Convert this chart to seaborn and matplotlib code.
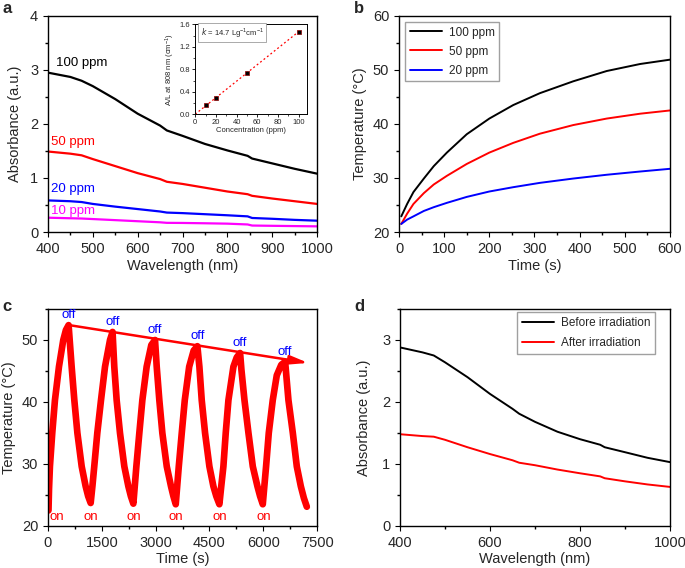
import numpy as np
import pandas as pd
import matplotlib
matplotlib.use('Agg')
import matplotlib.pyplot as plt
import seaborn as sns
from matplotlib.ticker import MultipleLocator

# ---- panel a: absorbance spectra at different concentrations
wl_a = [400, 450, 475, 500, 550, 600, 650, 665, 700, 750, 800, 845, 855, 900, 950, 1000]
abs_100 = [2.95, 2.87, 2.80, 2.70, 2.46, 2.19, 1.97, 1.88, 1.78, 1.63, 1.51, 1.41, 1.36, 1.27, 1.17, 1.08]
abs_50 = [1.49, 1.45, 1.42, 1.35, 1.22, 1.09, 0.98, 0.93, 0.89, 0.82, 0.75, 0.70, 0.67, 0.62, 0.57, 0.52]
abs_20 = [0.585, 0.57, 0.555, 0.52, 0.47, 0.425, 0.38, 0.36, 0.35, 0.33, 0.31, 0.29, 0.26, 0.245, 0.225, 0.21]
abs_10 = [0.265, 0.255, 0.25, 0.24, 0.22, 0.20, 0.18, 0.17, 0.168, 0.162, 0.155, 0.14, 0.12, 0.115, 0.11, 0.105]
conc_labels = ['100 ppm', '50 ppm', '20 ppm', '10 ppm']
conc_colors = ['black', 'red', 'blue', 'magenta']
label_y = [3.12, 1.67, 0.80, 0.39]

# inset: A/L at 808 nm vs concentration
conc = [10, 20, 50, 100]
a_over_l = [0.155, 0.295, 0.73, 1.47]
fit_x = [0, 100]
fit_y = [0.0, 1.47]

# ---- panel b: temperature vs time
time_b = [5, 18, 32, 55, 77, 106, 150, 200, 253, 312, 386, 460, 534, 600]
temp_100 = [22.9, 25.2, 27.4, 29.9, 32.2, 34.7, 38.1, 41.0, 43.5, 45.7, 47.9, 49.8, 51.1, 51.9]
temp_50 = [21.5, 23.4, 25.2, 27.2, 28.8, 30.4, 32.6, 34.7, 36.5, 38.2, 39.8, 41.0, 41.9, 42.5]
temp_20 = [21.5, 22.3, 22.9, 23.9, 24.6, 25.4, 26.5, 27.5, 28.3, 29.1, 29.9, 30.6, 31.2, 31.7]
b_labels = ['100 ppm', '50 ppm', '20 ppm']
b_colors = ['black', 'red', 'blue']

# ---- panel c: heating / cooling cycles
time_c = [15, 30, 55, 120, 195, 307, 427, 500, 575,
          660, 735, 820, 940, 1050, 1120, 1190,
          1240, 1290, 1375, 1478, 1590, 1729, 1800,
          1848, 1914, 2007, 2128, 2240, 2310, 2379,
          2420, 2463, 2546, 2630, 2750, 2880, 2983,
          3030, 3103, 3187, 3310, 3428, 3495, 3560,
          3602, 3645, 3728, 3812, 3935, 4060, 4163,
          4219, 4284, 4377, 4498, 4609, 4690, 4776,
          4830, 4888, 4953, 5028, 5167, 5260, 5353,
          5390, 5475, 5586, 5707, 5836, 5910, 5985,
          6030, 6077, 6152, 6263, 6375, 6500, 6608,
          6645, 6700, 6822, 6933, 7045, 7130, 7212]
temp_c = [22.5, 26.0, 29.6, 35.0, 40.3, 45.7, 50.0, 51.6, 52.4,
          45.7, 40.3, 35.0, 29.6, 26.4, 24.8, 23.7,
          26.5, 29.6, 35.0, 40.3, 45.7, 50.0, 51.3,
          45.7, 40.3, 35.0, 29.6, 26.4, 24.8, 23.6,
          26.5, 29.6, 35.0, 40.3, 45.7, 49.2, 50.0,
          45.7, 40.3, 35.0, 29.6, 26.4, 24.8, 23.5,
          26.5, 29.6, 35.0, 40.3, 45.7, 48.3, 49.0,
          45.7, 40.3, 35.0, 29.6, 26.4, 24.8, 23.5,
          26.5, 29.6, 35.0, 40.3, 45.7, 47.2, 47.9,
          45.2, 40.3, 35.0, 29.6, 26.4, 24.8, 23.5,
          26.5, 29.6, 35.0, 40.3, 44.3, 46.0, 46.5,
          44.0, 40.3, 35.0, 29.6, 26.4, 24.5, 23.1]
off_time = [575, 1800, 2983, 4163, 5353, 6608]
off_temp = [52.4, 51.3, 50.0, 49.0, 47.9, 46.5]
on_time = [240, 1190, 2380, 3565, 4795, 6020]
on_temp = [21.4, 21.4, 21.4, 21.4, 21.4, 21.4]
arrow_start = (590, 52.4)
arrow_end = (7250, 46.3)

# ---- panel d: before / after irradiation
wl_d = [400, 450, 475, 500, 550, 600, 650, 665, 700, 750, 800, 845, 855, 900, 950, 1000]
abs_before = [2.88, 2.80, 2.75, 2.64, 2.40, 2.13, 1.89, 1.81, 1.68, 1.52, 1.40, 1.31, 1.27, 1.19, 1.10, 1.03]
abs_after = [1.48, 1.45, 1.44, 1.39, 1.27, 1.16, 1.06, 1.02, 0.98, 0.91, 0.85, 0.80, 0.77, 0.72, 0.67, 0.63]
d_labels = ['Before irradiation', 'After irradiation']
d_colors = ['black', 'red']

sns.set_theme(style='ticks')
plt.rcParams['font.family'] = ['Liberation Sans', 'DejaVu Sans']
plt.rcParams['axes.linewidth'] = 1.0
plt.rcParams['xtick.major.size'] = 3.5
plt.rcParams['ytick.major.size'] = 3.5
plt.rcParams['xtick.minor.size'] = 2
plt.rcParams['ytick.minor.size'] = 2
plt.rcParams['xtick.major.width'] = 0.8
plt.rcParams['ytick.major.width'] = 0.8
plt.rcParams['mathtext.default'] = 'regular'

fig = plt.figure(figsize=(6.85, 5.68), dpi=100)
ax_a = fig.add_axes([0.070, 0.5915, 0.393, 0.3805])
ax_b = fig.add_axes([0.5825, 0.5915, 0.3955, 0.3805])
ax_c = fig.add_axes([0.070, 0.074, 0.393, 0.382])
ax_d = fig.add_axes([0.584, 0.074, 0.394, 0.382])
FS = 10.5

def style(ax):
    for s in ax.spines.values():
        s.set_visible(True)
        s.set_color('black')
    ax.tick_params(labelsize=FS, direction='out', color='black')
    ax.tick_params(which='minor', direction='out', color='black')

# panel a
df_a = pd.DataFrame({'wl': wl_a * 4,
                     'A': abs_100 + abs_50 + abs_20 + abs_10,
                     'conc': sum([[c] * len(wl_a) for c in conc_labels], [])})
sns.lineplot(data=df_a, x='wl', y='A', hue='conc', palette=conc_colors, ax=ax_a,
             linewidth=1.6, legend=False)
for lab, col, y in zip(conc_labels, conc_colors, label_y):
    ax_a.text(418 if lab == '100 ppm' else 407, y, lab, color=col, fontsize=9.5, va='center')
ax_a.set_xlim(400, 1000)
ax_a.set_ylim(0, 4)
ax_a.xaxis.set_major_locator(MultipleLocator(100))
ax_a.xaxis.set_minor_locator(MultipleLocator(50))
ax_a.yaxis.set_major_locator(MultipleLocator(1))
ax_a.yaxis.set_minor_locator(MultipleLocator(0.5))
ax_a.set_xlabel('Wavelength (nm)', fontsize=FS, labelpad=2)
ax_a.set_ylabel('Absorbance (a.u.)', fontsize=FS, labelpad=6)
style(ax_a)

# inset
ax_in = fig.add_axes([0.285, 0.799, 0.163, 0.158])
sns.lineplot(x=fit_x, y=fit_y, ax=ax_in, color='red', linestyle=(0, (1.5, 2)), linewidth=0.9)
sns.scatterplot(x=conc, y=a_over_l, ax=ax_in, color='black', marker='s', s=9,
                edgecolor='#8b0000', linewidth=0.5, zorder=3)
ax_in.set_xlim(0, 108)
ax_in.set_ylim(0, 1.6)
ax_in.xaxis.set_major_locator(MultipleLocator(20))
ax_in.xaxis.set_minor_locator(MultipleLocator(10))
ax_in.yaxis.set_major_locator(MultipleLocator(0.4))
ax_in.yaxis.set_minor_locator(MultipleLocator(0.2))
ax_in.set_yticklabels([f'{v:.1f}' for v in ax_in.get_yticks()])
ax_in.set_xlabel('Concentration (ppm)', fontsize=5.5, labelpad=1)
ax_in.set_ylabel('A/L at 808 nm (cm$^{-1}$)', fontsize=5.5, labelpad=2)
style(ax_in)
ax_in.tick_params(labelsize=5.5, length=2, width=0.6, pad=1.5)
ax_in.tick_params(which='minor', length=1.2, width=0.5)
for s in ax_in.spines.values():
    s.set_linewidth(0.7)
ax_in.text(0.05, 0.91, '$\\it{k}$ = 14.7 Lg$^{-1}$cm$^{-1}$', transform=ax_in.transAxes,
           fontsize=5.5, va='center',
           bbox=dict(boxstyle='square,pad=0.35', fc='white', ec='#888888', lw=0.5))

# panel b
df_b = pd.DataFrame({'t': time_b * 3,
                     'T': temp_100 + temp_50 + temp_20,
                     'conc': sum([[c] * len(time_b) for c in b_labels], [])})
sns.lineplot(data=df_b, x='t', y='T', hue='conc', palette=b_colors, ax=ax_b, linewidth=1.4)
ax_b.set_xlim(0, 600)
ax_b.set_ylim(20, 60)
ax_b.xaxis.set_major_locator(MultipleLocator(100))
ax_b.xaxis.set_minor_locator(MultipleLocator(50))
ax_b.yaxis.set_major_locator(MultipleLocator(10))
ax_b.yaxis.set_minor_locator(MultipleLocator(5))
ax_b.set_xlabel('Time (s)', fontsize=FS, labelpad=2)
ax_b.set_ylabel('Temperature (°C)', fontsize=FS, labelpad=4)
ax_b.legend(title=None, loc='upper left', fontsize=8.5, frameon=True, fancybox=False,
            edgecolor='#888888', borderaxespad=0.5, handlelength=2.7, handletextpad=0.6,
            labelspacing=0.6)
style(ax_b)

# panel c
sns.lineplot(x=time_c, y=temp_c, ax=ax_c, color='red', linewidth=4.8, sort=False)
ax_c.annotate('', xy=arrow_end, xytext=arrow_start,
              arrowprops=dict(arrowstyle='-|>,head_length=0.9,head_width=0.22',
                              color='red', lw=1.8, shrinkA=0, shrinkB=0))
for t, T in zip(off_time, off_temp):
    ax_c.annotate('off', xy=(t, T), xytext=(0, 3), textcoords='offset points',
                  ha='center', va='bottom', color='blue', fontsize=9.5)
for t, T in zip(on_time, on_temp):
    ax_c.text(t, T, 'on', ha='center', va='center', color='red', fontsize=9.5)
ax_c.set_xlim(0, 7500)
ax_c.set_ylim(20, 55)
ax_c.xaxis.set_major_locator(MultipleLocator(1500))
ax_c.xaxis.set_minor_locator(MultipleLocator(750))
ax_c.yaxis.set_major_locator(MultipleLocator(10))
ax_c.yaxis.set_minor_locator(MultipleLocator(5))
ax_c.set_xlabel('Time (s)', fontsize=FS, labelpad=2)
ax_c.set_ylabel('Temperature (°C)', fontsize=FS, labelpad=4)
style(ax_c)

# panel d
df_d = pd.DataFrame({'wl': wl_d * 2,
                     'A': abs_before + abs_after,
                     'state': sum([[c] * len(wl_d) for c in d_labels], [])})
sns.lineplot(data=df_d, x='wl', y='A', hue='state', palette=d_colors, ax=ax_d, linewidth=1.4)
ax_d.set_xlim(400, 1000)
ax_d.set_ylim(0, 3.5)
ax_d.xaxis.set_major_locator(MultipleLocator(200))
ax_d.xaxis.set_minor_locator(MultipleLocator(100))
ax_d.yaxis.set_major_locator(MultipleLocator(1))
ax_d.yaxis.set_minor_locator(MultipleLocator(0.5))
ax_d.set_xlabel('Wavelength (nm)', fontsize=FS, labelpad=2)
ax_d.set_ylabel('Absorbance (a.u.)', fontsize=FS, labelpad=8)
ax_d.legend(title=None, loc='upper right', bbox_to_anchor=(0.945, 0.985), borderaxespad=0,
            fontsize=8.5, frameon=True, fancybox=False, edgecolor='#888888',
            handlelength=2.7, handletextpad=0.6, labelspacing=0.7)
style(ax_d)

for lab, (x, y) in zip('abcd', [(0.003, 0.985), (0.517, 0.985), (0.003, 0.46), (0.517, 0.46)]):
    fig.text(x, y, lab, fontsize=12, fontweight='bold', va='center')

fig.savefig('out.png', dpi=100)
